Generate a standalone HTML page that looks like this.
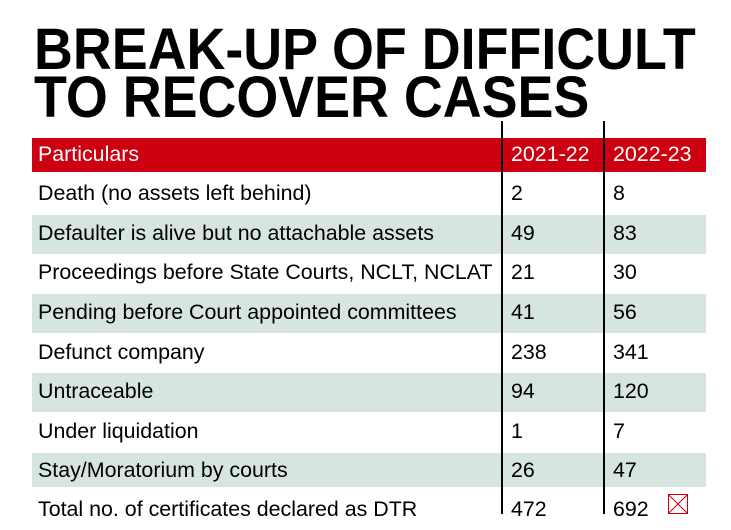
<!DOCTYPE html>
<html><head><style>
body{margin:0;background:#fff;width:731px;height:530px;position:relative;overflow:hidden;font-family:"Liberation Sans",Arial,sans-serif}
.t{position:absolute;left:34px;font-weight:bold;font-size:58px;line-height:58px;color:#000;white-space:nowrap;transform-origin:0 0;transform:scaleX(0.928)}
.hdr{position:absolute;left:32px;top:138px;width:674px;height:34px;background:#cc0010}
.g{position:absolute;left:32px;width:674px;background:#d6e5df}
.c{position:absolute;font-size:21.4px;line-height:21px;white-space:nowrap}
.v{position:absolute;top:121px;width:1.5px;height:393px;background:#000}
</style></head><body>
<div class="t" style="top:21px">BREAK-UP OF DIFFICULT</div>
<div class="t" style="top:69px">TO RECOVER CASES</div>
<div class="hdr"></div>
<div class="g" style="top:215px;height:39px"></div>
<div class="g" style="top:294px;height:39px"></div>
<div class="g" style="top:373px;height:39px"></div>
<div class="g" style="top:453px;height:34px"></div>
<div class="v" style="left:501px"></div>
<div class="v" style="left:603px"></div>
<div class="c" style="left:38px;top:144px;color:#fff">Particulars</div>
<div class="c" style="left:511px;top:144px;color:#fff">2021-22</div>
<div class="c" style="left:613px;top:144px;color:#fff">2022-23</div>
<div style="position:absolute;left:668px;top:494px;width:20px;height:20px;border:1px solid #c00;box-sizing:border-box">
<svg width="18" height="18" style="position:absolute;left:0;top:0"><path d="M0 0L18 18M18 0L0 18" stroke="#c00" stroke-width="1"/></svg></div>
<div class="c" style="left:38px;top:183px">Death (no assets left behind)</div><div class="c" style="left:511px;top:183px">2</div><div class="c" style="left:613px;top:183px">8</div>
<div class="c" style="left:38px;top:223px">Defaulter is alive but no attachable assets</div><div class="c" style="left:511px;top:223px">49</div><div class="c" style="left:613px;top:223px">83</div>
<div class="c" style="left:38px;top:262px">Proceedings before State Courts, NCLT, NCLAT</div><div class="c" style="left:511px;top:262px">21</div><div class="c" style="left:613px;top:262px">30</div>
<div class="c" style="left:38px;top:302px">Pending before Court appointed committees</div><div class="c" style="left:511px;top:302px">41</div><div class="c" style="left:613px;top:302px">56</div>
<div class="c" style="left:38px;top:342px">Defunct company</div><div class="c" style="left:511px;top:342px">238</div><div class="c" style="left:613px;top:342px">341</div>
<div class="c" style="left:38px;top:381px">Untraceable</div><div class="c" style="left:511px;top:381px">94</div><div class="c" style="left:613px;top:381px">120</div>
<div class="c" style="left:38px;top:421px">Under liquidation</div><div class="c" style="left:511px;top:421px">1</div><div class="c" style="left:613px;top:421px">7</div>
<div class="c" style="left:38px;top:460px">Stay/Moratorium by courts</div><div class="c" style="left:511px;top:460px">26</div><div class="c" style="left:613px;top:460px">47</div>
<div class="c" style="left:38px;top:499px">Total no. of certificates declared as DTR</div><div class="c" style="left:511px;top:499px">472</div><div class="c" style="left:613px;top:499px">692</div>
</body></html>
